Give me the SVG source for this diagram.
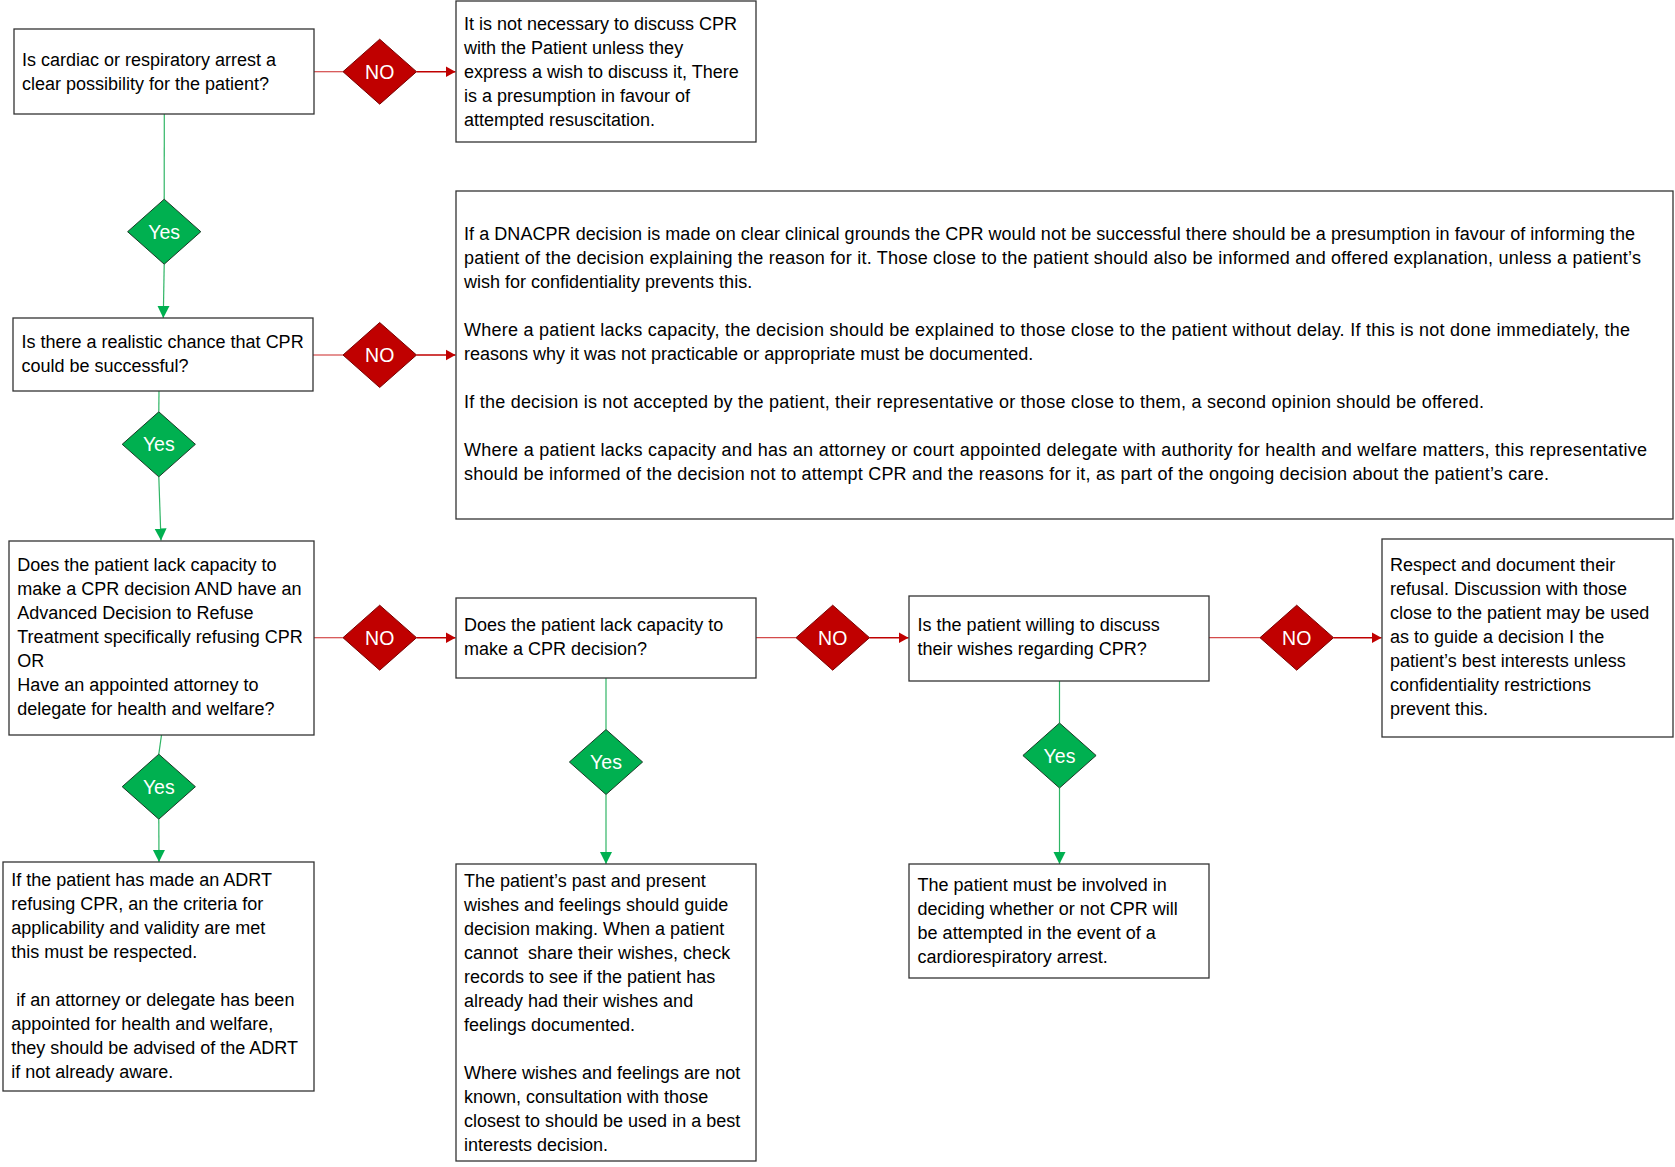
<svg xmlns="http://www.w3.org/2000/svg" width="1675" height="1167" viewBox="0 0 1675 1167">
<style>
.box{fill:#ffffff;stroke:#333333;stroke-width:1.3}
.t{font-family:"Liberation Sans",Arial,sans-serif;font-size:18px;fill:#000000}
.no{fill:#c00000;stroke:#7a0000;stroke-width:1}
.yes{fill:#00b050;stroke:#1a3a26;stroke-width:1}
.dl{font-family:"Liberation Sans",Arial,sans-serif;font-size:19.5px;fill:#ffffff;text-anchor:middle}
.rl{fill:none;stroke:#c00000;stroke-width:1.5}
.rl0{fill:none;stroke:#d44a4a;stroke-width:1.2}
.gl{fill:none;stroke:#2fb565;stroke-width:1.2}
</style>
<defs>
<marker id="ar" markerUnits="userSpaceOnUse" markerWidth="11" markerHeight="12" refX="10" refY="6" orient="auto">
<path d="M0,0.5 L10,6 L0,11.5 z" fill="#c00000"/>
</marker>
<marker id="ag" markerUnits="userSpaceOnUse" markerWidth="13" markerHeight="13" refX="12" refY="6.5" orient="auto">
<path d="M0,0.5 L12,6.5 L0,12.5 z" fill="#00b050"/>
</marker>
</defs>
<rect width="1675" height="1167" fill="#ffffff"/>

<g id="connectors">
<line class="rl0" x1="314" y1="71.7" x2="343" y2="71.7"/>
<line class="rl" x1="416.5" y1="71.7" x2="455.5" y2="71.7" marker-end="url(#ar)"/>
<line class="rl0" x1="313" y1="355" x2="343" y2="355"/>
<line class="rl" x1="416.5" y1="355" x2="455.5" y2="355" marker-end="url(#ar)"/>
<line class="rl0" x1="314" y1="637.7" x2="343" y2="637.7"/>
<line class="rl" x1="416.5" y1="637.7" x2="455.5" y2="637.7" marker-end="url(#ar)"/>
<line class="rl0" x1="756" y1="637.7" x2="796" y2="637.7"/>
<line class="rl" x1="869.5" y1="637.7" x2="908.5" y2="637.7" marker-end="url(#ar)"/>
<line class="rl0" x1="1209" y1="637.7" x2="1260" y2="637.7"/>
<line class="rl" x1="1333.5" y1="637.7" x2="1381.5" y2="637.7" marker-end="url(#ar)"/>
<line class="gl" x1="164.3" y1="114" x2="164.2" y2="199.2"/>
<line class="gl" x1="164.2" y1="264.2" x2="163.3" y2="318" marker-end="url(#ag)"/>
<line class="gl" x1="159" y1="391" x2="158.8" y2="411.8"/>
<line class="gl" x1="158.8" y1="476.8" x2="161" y2="540.5" marker-end="url(#ag)"/>
<line class="gl" x1="161.5" y1="735" x2="158.8" y2="754.2"/>
<line class="gl" x1="158.8" y1="819.2" x2="159" y2="862" marker-end="url(#ag)"/>
<line class="gl" x1="606" y1="678" x2="606" y2="729.5"/>
<line class="gl" x1="606" y1="794.5" x2="606" y2="864" marker-end="url(#ag)"/>
<line class="gl" x1="1059.5" y1="681" x2="1059.5" y2="723"/>
<line class="gl" x1="1059.5" y1="788" x2="1059.5" y2="864" marker-end="url(#ag)"/>
</g>

<g id="q1">
<rect class="box" x="14" y="29" width="300" height="85"/>
<text class="t" x="22" y="66">Is cardiac or respiratory arrest a</text>
<text class="t" x="22" y="90">clear possibility for the patient?</text>
</g>

<g id="no1">
<polygon class="no" points="379.7,39.2 416.5,71.7 379.7,104.2 343,71.7"/>
<text class="dl" x="379.7" y="78.7">NO</text>
</g>

<g id="info1">
<rect class="box" x="456" y="1" width="300" height="141"/>
<text class="t" x="464" y="30">It is not necessary to discuss CPR</text>
<text class="t" x="464" y="54">with the Patient unless they</text>
<text class="t" x="464" y="78">express a wish to discuss it, There</text>
<text class="t" x="464" y="102">is a presumption in favour of</text>
<text class="t" x="464" y="126">attempted resuscitation.</text>
</g>

<g id="yes1">
<polygon class="yes" points="164.2,199.2 200.8,231.7 164.2,264.2 127.6,231.7"/>
<text class="dl" x="164.2" y="238.7">Yes</text>
</g>

<g id="q2">
<rect class="box" x="13" y="318" width="300" height="73"/>
<text class="t" x="21.5" y="348">Is there a realistic chance that CPR</text>
<text class="t" x="21.5" y="372">could be successful?</text>
</g>

<g id="no2">
<polygon class="no" points="379.7,322.5 416.5,355 379.7,387.5 343,355"/>
<text class="dl" x="379.7" y="362">NO</text>
</g>

<g id="info2">
<rect class="box" x="456" y="191" width="1217" height="328"/>
<text class="t" x="464" y="240" textLength="1171" lengthAdjust="spacing">If a DNACPR decision is made on clear clinical grounds the CPR would not be successful there should be a presumption in favour of informing the</text>
<text class="t" x="464" y="264" textLength="1177" lengthAdjust="spacing">patient of the decision explaining the reason for it. Those close to the patient should also be informed and offered explanation, unless a patient’s</text>
<text class="t" x="464" y="288">wish for confidentiality prevents this.</text>
<text class="t" x="464" y="336" textLength="1166" lengthAdjust="spacing">Where a patient lacks capacity, the decision should be explained to those close to the patient without delay. If this is not done immediately, the</text>
<text class="t" x="464" y="360">reasons why it was not practicable or appropriate must be documented.</text>
<text class="t" x="464" y="408" textLength="1020" lengthAdjust="spacing">If the decision is not accepted by the patient, their representative or those close to them, a second opinion should be offered.</text>
<text class="t" x="464" y="456" textLength="1183" lengthAdjust="spacing">Where a patient lacks capacity and has an attorney or court appointed delegate with authority for health and welfare matters, this representative</text>
<text class="t" x="464" y="480" textLength="1085" lengthAdjust="spacing">should be informed of the decision not to attempt CPR and the reasons for it, as part of the ongoing decision about the patient’s care.</text>
</g>

<g id="yes2">
<polygon class="yes" points="158.8,411.8 195.4,444.3 158.8,476.8 122.2,444.3"/>
<text class="dl" x="158.8" y="451.3">Yes</text>
</g>

<g id="q3">
<rect class="box" x="9" y="541" width="305" height="194"/>
<text class="t" x="17.3" y="571">Does the patient lack capacity to</text>
<text class="t" x="17.3" y="595">make a CPR decision AND have an</text>
<text class="t" x="17.3" y="619">Advanced Decision to Refuse</text>
<text class="t" x="17.3" y="643">Treatment specifically refusing CPR</text>
<text class="t" x="17.3" y="667">OR</text>
<text class="t" x="17.3" y="691">Have an appointed attorney to</text>
<text class="t" x="17.3" y="715">delegate for health and welfare?</text>
</g>

<g id="no3">
<polygon class="no" points="379.7,605.2 416.5,637.7 379.7,670.2 343,637.7"/>
<text class="dl" x="379.7" y="644.7">NO</text>
</g>

<g id="q4">
<rect class="box" x="456" y="598" width="300" height="80"/>
<text class="t" x="464" y="631">Does the patient lack capacity to</text>
<text class="t" x="464" y="655">make a CPR decision?</text>
</g>

<g id="no4">
<polygon class="no" points="832.7,605.2 869.5,637.7 832.7,670.2 796,637.7"/>
<text class="dl" x="832.7" y="644.7">NO</text>
</g>

<g id="q5">
<rect class="box" x="909" y="596" width="300" height="85"/>
<text class="t" x="917.6" y="631">Is the patient willing to discuss</text>
<text class="t" x="917.6" y="655">their wishes regarding CPR?</text>
</g>

<g id="no5">
<polygon class="no" points="1296.7,605.2 1333.5,637.7 1296.7,670.2 1260,637.7"/>
<text class="dl" x="1296.7" y="644.7">NO</text>
</g>

<g id="refusal">
<rect class="box" x="1382" y="539" width="291" height="198"/>
<text class="t" x="1390" y="571">Respect and document their</text>
<text class="t" x="1390" y="595">refusal. Discussion with those</text>
<text class="t" x="1390" y="619">close to the patient may be used</text>
<text class="t" x="1390" y="643">as to guide a decision I the</text>
<text class="t" x="1390" y="667">patient’s best interests unless</text>
<text class="t" x="1390" y="691">confidentiality restrictions</text>
<text class="t" x="1390" y="715">prevent this.</text>
</g>

<g id="yes3">
<polygon class="yes" points="158.8,754.2 195.4,786.7 158.8,819.2 122.2,786.7"/>
<text class="dl" x="158.8" y="793.7">Yes</text>
</g>

<g id="yes4">
<polygon class="yes" points="606,729.5 642.6,762 606,794.5 569.4,762"/>
<text class="dl" x="606" y="769">Yes</text>
</g>

<g id="yes5">
<polygon class="yes" points="1059.5,723 1096.1,755.5 1059.5,788 1022.9,755.5"/>
<text class="dl" x="1059.5" y="762.5">Yes</text>
</g>

<g id="adrt">
<rect class="box" x="3" y="862" width="311" height="229"/>
<text class="t" x="11.2" y="886">If the patient has made an ADRT</text>
<text class="t" x="11.2" y="910">refusing CPR, an the criteria for</text>
<text class="t" x="11.2" y="934">applicability and validity are met</text>
<text class="t" x="11.2" y="958">this must be respected.</text>
<text class="t" x="11.2" y="1006" xml:space="preserve"> if an attorney or delegate has been</text>
<text class="t" x="11.2" y="1030">appointed for health and welfare,</text>
<text class="t" x="11.2" y="1054">they should be advised of the ADRT</text>
<text class="t" x="11.2" y="1078">if not already aware.</text>
</g>

<g id="wishes">
<rect class="box" x="456" y="864" width="300" height="297"/>
<text class="t" x="464" y="887">The patient’s past and present</text>
<text class="t" x="464" y="911">wishes and feelings should guide</text>
<text class="t" x="464" y="935">decision making. When a patient</text>
<text class="t" x="464" y="959" xml:space="preserve">cannot  share their wishes, check</text>
<text class="t" x="464" y="983">records to see if the patient has</text>
<text class="t" x="464" y="1007">already had their wishes and</text>
<text class="t" x="464" y="1031">feelings documented.</text>
<text class="t" x="464" y="1079">Where wishes and feelings are not</text>
<text class="t" x="464" y="1103">known, consultation with those</text>
<text class="t" x="464" y="1127">closest to should be used in a best</text>
<text class="t" x="464" y="1151">interests decision.</text>
</g>

<g id="involved">
<rect class="box" x="909" y="864" width="300" height="114"/>
<text class="t" x="917.6" y="891">The patient must be involved in</text>
<text class="t" x="917.6" y="915">deciding whether or not CPR will</text>
<text class="t" x="917.6" y="939">be attempted in the event of a</text>
<text class="t" x="917.6" y="963">cardiorespiratory arrest.</text>
</g>
</svg>
